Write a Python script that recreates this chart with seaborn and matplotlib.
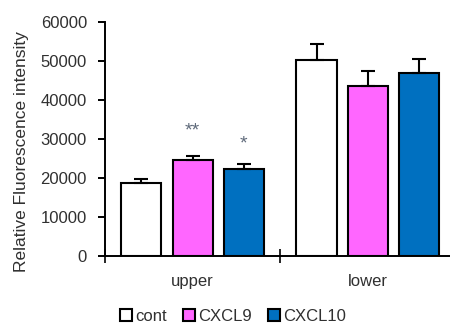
import numpy as np
import pandas as pd
import matplotlib
matplotlib.use("Agg")
import matplotlib.pyplot as plt
import seaborn as sns

categories = ["upper", "lower"]
groups = ["cont", "CXCL9", "CXCL10"]
cont_mean = [18700, 50200]
cxcl9_mean = [24500, 43700]
cxcl10_mean = [22300, 46800]
cont_err = [1100, 4200]
cxcl9_err = [1050, 3650]
cxcl10_err = [1200, 3600]
upper_marks = ["", "**", "*"]
y_ticks = [0, 10000, 20000, 30000, 40000, 50000, 60000]
colors = ["#FFFFFF", "#FF66FF", "#0070C0"]
text_color = "#303030"

sns.set_style("ticks")
plt.rcParams["font.family"] = ["Liberation Sans", "DejaVu Sans"]

means = [cont_mean, cxcl9_mean, cxcl10_mean]
errs = [cont_err, cxcl9_err, cxcl10_err]
rows = []
for g, m in zip(groups, means):
    for c, v in zip(categories, m):
        rows.append({"position": c, "group": g, "value": v})
df = pd.DataFrame(rows)

fig = plt.figure(figsize=(4.5, 3.24), dpi=100)
ax = fig.add_axes([105 / 450, 68 / 324, 345 / 450, 234 / 324])

sns.barplot(data=df, x="position", y="value", hue="group", order=categories,
            hue_order=groups, palette=colors, width=0.875, gap=0.216,
            edgecolor="black", linewidth=1.5, errorbar=None, ax=ax,
            legend=False, saturation=1)
bar_containers = list(ax.containers)

for cont, err in zip(bar_containers, errs):
    xs = [p.get_x() + p.get_width() / 2 for p in cont.patches]
    ys = [p.get_height() for p in cont.patches]
    ax.errorbar(xs, ys, yerr=[np.zeros(len(err)), err], fmt="none",
                ecolor="black", elinewidth=1.5, capsize=5, capthick=1.5,
                zorder=1)

# significance marks on "upper"
offsets = {"**": 18, "*": 15}
for cont, err, mark in zip(bar_containers, errs, upper_marks):
    if mark:
        p = cont.patches[0]
        ax.annotate(mark, (p.get_x() + p.get_width() / 2, p.get_height() + err[0]),
                    xytext=(0, offsets[mark]), textcoords="offset points",
                    ha="center", va="center", fontsize=14, color="#5f6a7a")

ax.set_ylim(0, 60000)
ax.set_xlim(-0.5, 1.471)
ax.set_yticks(y_ticks)
ax.set_yticklabels([str(t) for t in y_ticks], fontsize=12)
ax.tick_params(axis="y", direction="out", length=5, width=1.4, pad=8,
               color="black", labelcolor=text_color)
ax.tick_params(axis="x", which="major", length=0, pad=13, labelsize=12,
               labelcolor=text_color)
ax.set_xticks([-0.5, 0.5], minor=True)
ax.tick_params(axis="x", which="minor", direction="inout", length=10, width=1.4)
ax.set_xlabel("")
ax.set_ylabel("Relative Fluorescence intensity", fontsize=12.5, color=text_color)
ax.yaxis.set_label_coords(-0.22, 0.447)
sns.despine(ax=ax)
for s in ["left", "bottom"]:
    ax.spines[s].set_linewidth(1.4)
    ax.spines[s].set_color("black")

handles = [c.patches[0] for c in bar_containers]
leg = fig.legend(handles, groups, loc="center", bbox_to_anchor=(0.518, 0.024),
                 ncol=3, frameon=False, fontsize=12, handlelength=0.72,
                 handleheight=0.72, handletextpad=0.2, columnspacing=0.95,
                 borderaxespad=0, borderpad=0)
for t in leg.get_texts():
    t.set_color(text_color)

fig.savefig("out.png", dpi=100)
